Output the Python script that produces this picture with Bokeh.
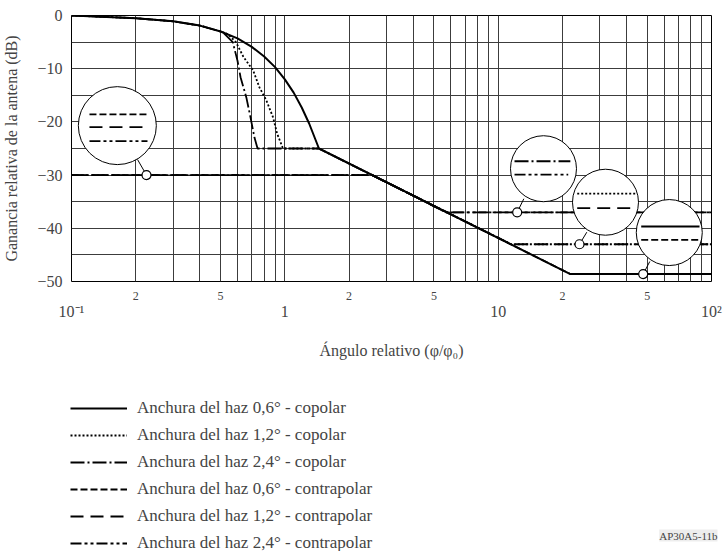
from bokeh.plotting import figure
from bokeh.layouts import column
from bokeh.models import (LogAxis, FixedTicker, Legend, LegendItem, Label, Range1d)
from bokeh.embed import file_html
from bokeh.resources import INLINE

FONT = "Liberation Serif"

# ---------------- data ----------------
# copolar patterns
co06_x = [0.1, 0.2, 0.3, 0.4, 0.5, 0.6, 0.7, 0.8, 0.9, 1.0, 1.1, 1.2, 1.3, 1.445, 21.8, 100]
co06_y = [0, -0.5, -1.1, -1.9, -3.0, -4.3, -5.9, -7.7, -9.7, -12.0, -14.5, -17.3, -20.3, -25.0, -48.6, -48.6]

co12_x = [0.1, 0.2, 0.3, 0.4, 0.5, 0.54, 0.59, 0.64, 0.71, 0.76, 0.82, 0.88, 0.92, 0.98, 1.445, 11.5, 100]
co12_y = [0, -0.5, -1.1, -1.9, -3.0, -3.5, -5.0, -7.8, -10.3, -13.5, -16.0, -19.1, -22.2, -25.0, -25.0, -43.0, -43.0]

co24_x = [0.1, 0.2, 0.3, 0.4, 0.5, 0.52, 0.57, 0.60, 0.62, 0.66, 0.69, 0.72, 0.745, 1.445, 5.7, 100]
co24_y = [0, -0.5, -1.1, -1.9, -3.0, -3.4, -5.0, -8.5, -11.6, -15.4, -19.1, -22.9, -25.0, -25.0, -37.0, -37.0]

# contrapolar patterns
cx06_x = [0.1, 2.57, 21.8, 100]
cx06_y = [-30, -30, -48.6, -48.6]
cx12_x = [0.1, 2.57, 11.5, 100]
cx12_y = [-30, -30, -43.0, -43.0]
cx24_x = [0.1, 2.57, 5.7, 100]
cx24_y = [-30, -30, -37.0, -37.0]

series_labels = [
    "Anchura del haz 0,6° - copolar",
    "Anchura del haz 1,2° - copolar",
    "Anchura del haz 2,4° - copolar",
    "Anchura del haz 0,6° - contrapolar",
    "Anchura del haz 1,2° - contrapolar",
    "Anchura del haz 2,4° - contrapolar",
]

x_minor_ticks = [0.2, 0.5, 2, 5, 20, 50]
x_minor_labels = ["2", "5", "2", "5", "2", "5"]
x_major_ticks = [0.1, 1, 10, 100]
x_major_labels = ["10⁻¹", "1", "10", "10²"]
x_grid = [0.2, 0.3, 0.4, 0.5, 0.6, 0.7, 0.8, 0.9, 1, 2, 3, 4, 5, 6, 7, 8, 9, 10,
          20, 30, 40, 50, 60, 70, 80, 90]
y_ticks = [0, -10, -20, -30, -40, -50]
y_labels = ["0", "−10", "−20", "−30", "−40", "−50"]
y_grid = [0, -5, -10, -15, -20, -25, -30, -35, -40, -45, -50]

# ---------------- main figure ----------------
p = figure(width=728, height=390, x_axis_type="log",
           x_range=Range1d(0.1, 100), y_range=Range1d(-50, 0),
           output_backend="svg", toolbar_location=None,
           min_border_left=71, min_border_right=17, min_border_top=15,
           min_border_bottom=109)
p.frame_align = False
p.background_fill_color = "white"
p.border_fill_color = "white"
p.outline_line_color = "black"
p.outline_line_width = 1

# grid
p.xgrid.ticker = FixedTicker(ticks=x_grid)
p.ygrid.ticker = FixedTicker(ticks=y_grid)
for g in (p.xgrid[0], p.ygrid[0]):
    g.grid_line_color = "#3c3c3c"
    g.grid_line_width = 1

# y axis
ya = p.yaxis[0]
ya.ticker = FixedTicker(ticks=y_ticks)
ya.major_label_overrides = dict(zip(y_ticks, y_labels))
ya.axis_label = "Ganancia relativa de la antena (dB)"
ya.axis_label_text_font = FONT
ya.axis_label_text_font_size = "16px"
ya.axis_label_text_font_style = "normal"
ya.axis_label_standoff = 14
ya.major_label_text_font = FONT
ya.major_label_text_font_size = "16px"
ya.major_label_standoff = 9
ya.axis_line_color = None
ya.major_tick_line_color = None
ya.minor_tick_line_color = None
ya.major_tick_out = 0
ya.major_tick_in = 0

# x axis 1: minor labels (2, 5)
xa1 = p.xaxis[0]
xa1.ticker = FixedTicker(ticks=x_minor_ticks)
xa1.major_label_overrides = dict(zip(x_minor_ticks, x_minor_labels))
xa1.major_label_text_font = FONT
xa1.major_label_text_font_size = "12px"
xa1.major_label_standoff = 10
xa1.axis_line_color = None
xa1.major_tick_line_color = None
xa1.minor_tick_line_color = None
xa1.major_tick_out = 0
xa1.major_tick_in = 0

# x axis 2: decade labels + title
xa2 = LogAxis(ticker=FixedTicker(ticks=x_major_ticks),
              major_label_overrides=dict(zip(x_major_ticks, x_major_labels)))
xa2.major_label_text_font = FONT
xa2.major_label_text_font_size = "16px"
xa2.major_label_standoff = 0
xa2.axis_line_color = None
xa2.major_tick_line_color = None
xa2.minor_tick_line_color = None
xa2.major_tick_out = 0
xa2.major_tick_in = 0
xa2.axis_label = "Ángulo relativo (φ/φ₀)"
xa2.axis_label_text_font = FONT
xa2.axis_label_text_font_size = "16px"
xa2.axis_label_text_font_style = "normal"
xa2.axis_label_standoff = 19
p.add_layout(xa2, "below")

# ---------------- curves ----------------
LW = 1.8
styles = [
    dict(line_dash="solid", line_width=2.0),
    dict(line_dash="2 2", line_width=LW),
    dict(line_dash="14 3 2 3", line_width=LW),
    dict(line_dash="7 3", line_width=LW),
    dict(line_dash="13 7", line_width=LW),
    dict(line_dash="11 3 3 3 3 3", line_width=LW),
]
xs = [co06_x, co12_x, co24_x, cx06_x, cx12_x, cx24_x]
ys = [co06_y, co12_y, co24_y, cx06_y, cx12_y, cx24_y]
draw_order = [3, 4, 5, 2, 1, 0]
for i in draw_order:
    p.line(xs[i], ys[i], line_color="black", **styles[i])

# ---------------- callouts ----------------
big_x = [0.164, 16.31, 31.85, 63.4]
big_y = [-20.7, -28.8, -35.1, -40.8]
big_d = [78, 66, 66, 66]
anc_x = [0.2247, 12.28, 24.06, 47.84]
anc_y = [-30.0, -37.0, -43.0, -48.6]
con_x = [0.2039, 13.19, 26.03, 51.38]
con_y = [-27.07, -34.45, -40.73, -46.24]

p.segment(x0=con_x, y0=con_y, x1=anc_x, y1=anc_y, line_color="black", line_width=1)
p.scatter(x=big_x, y=big_y, size=big_d, marker="circle",
          fill_color="white", line_color="black", line_width=1)
p.scatter(x=anc_x, y=anc_y, size=9, marker="circle",
          fill_color="white", line_color="black", line_width=1.2)

samples = [
    (0.1214, 0.2271, -18.6, 3),
    (0.1214, 0.2271, -21.0, 4),
    (0.1214, 0.2271, -23.6, 5),
    (11.93, 21.8, -27.4, 2),
    (11.93, 21.3, -29.9, 5),
    (23.47, 44.85, -33.5, 1),
    (23.47, 44.3, -36.2, 4),
    (46.83, 87.87, -39.66, 0),
    (46.83, 87.87, -42.16, 3),
]
for x0, x1, yy, si in samples:
    p.line([x0, x1], [yy, yy], line_color="black", **styles[si])

# ---------------- legend figure ----------------
q = figure(width=728, height=161, x_range=Range1d(0, 728), y_range=Range1d(0, 161),
           x_axis_location=None, y_axis_location=None,
           output_backend="svg", toolbar_location=None,
           min_border_left=0, min_border_right=0, min_border_top=0, min_border_bottom=0)
q.frame_align = False
q.grid.visible = False
q.outline_line_color = None
q.background_fill_color = "white"
q.border_fill_color = "white"

# legend proxies (kept outside the visible range; only their styles are used)
leg_renderers = [q.line([-20, -10], [-20, -20], line_color="black", **styles[i]) for i in range(6)]
legend = Legend(
    items=[LegendItem(label=series_labels[i], renderers=[leg_renderers[i]]) for i in range(6)],
    location=(70, -2), orientation="vertical",
    glyph_width=57, glyph_height=20, label_height=20, label_standoff=10,
    spacing=7, padding=0, margin=0,
    border_line_alpha=0, background_fill_alpha=0,
    label_text_font=FONT, label_text_font_size="17px",
)
q.add_layout(legend, "center")

code = Label(x=717, y=16, text="AP30A5-11b", text_align="right", text_baseline="middle",
             text_font=FONT, text_font_size="11px",
             background_fill_color="#ededed")
q.add_layout(code)

open("out.html", "w").write(file_html(column(p, q), INLINE))
